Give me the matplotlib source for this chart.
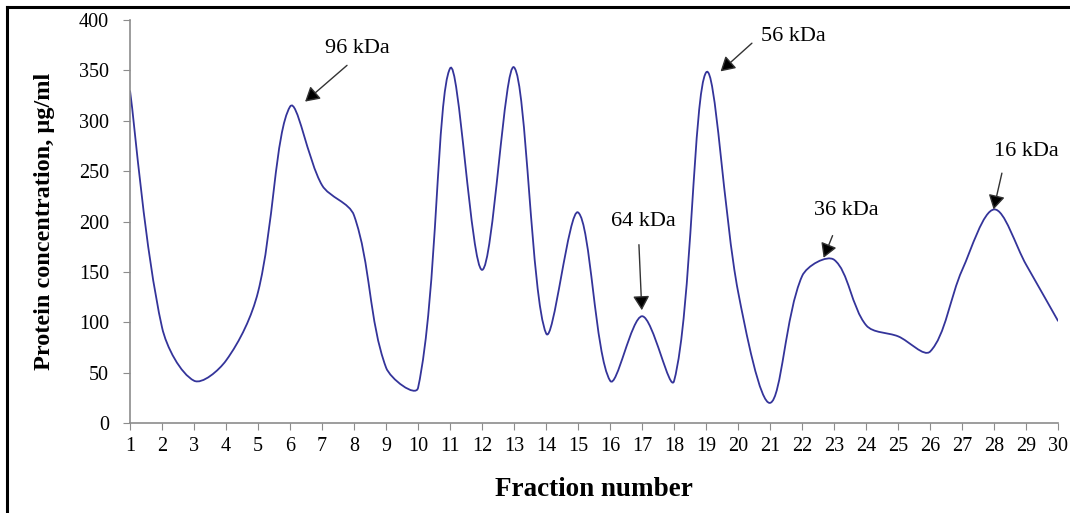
import numpy as np
import matplotlib
matplotlib.use("Agg")
import matplotlib.pyplot as plt
from matplotlib.path import Path
from matplotlib.patches import PathPatch
from matplotlib.lines import Line2D

fractions = list(range(1, 31))
conc = [330, 95, 42, 62, 130, 314, 236, 206, 55, 35,
        352, 152, 353, 89, 209, 42, 106, 42, 348, 130,
        20, 146, 162, 97, 86, 71, 152, 212, 157, 101]

# label, text centre, arrow start, arrow tip (data coords)
peaks = [("96 kDa", (8.09, 372), (7.78, 355), (6.47, 319)),
         ("56 kDa", (21.72, 384), (20.43, 377), (19.45, 349)),
         ("64 kDa", (17.03, 200), (16.90, 177), (16.99, 112)),
         ("36 kDa", (23.38, 211), (22.95, 186), (22.67, 164)),
         ("16 kDa", (29.00, 269), (28.24, 248), (27.98, 212))]

LINE = "#34349a"
plt.rcParams["font.family"] = ["Liberation Serif", "DejaVu Serif"]

fig = plt.figure(figsize=(10.70, 5.13), dpi=100)
ax = fig.add_axes([0.1215, 0.1754, 0.8675, 0.7856])
ax.set_xlim(1, 30)
ax.set_ylim(0, 400)

# Excel-like smoothed line: Bezier arms (P[i+1]-P[i-1])/6 scaled by segment length, in screen space
P = ax.transData.transform(np.column_stack([fractions, conc]))
n = len(P)
seg = np.linalg.norm(np.diff(P, axis=0), axis=1)

def arm(i, side):
    # side=+1: outgoing arm of point i, side=-1: incoming arm
    a, b = P[max(i - 1, 0)], P[min(i + 1, n - 1)]
    d_prev = seg[i - 1] if i > 0 else seg[i]
    d_next = seg[i] if i < n - 1 else seg[i - 1]
    own = d_next if side > 0 else d_prev
    return (b - a) / 6 * 2 * own / (d_prev + d_next)

verts, codes = [P[0]], [Path.MOVETO]
for i in range(n - 1):
    verts += [P[i] + arm(i, 1), P[i + 1] - arm(i + 1, -1), P[i + 1]]
    codes += [Path.CURVE4] * 3
verts = ax.transData.inverted().transform(np.array(verts))
ax.add_patch(PathPatch(Path(verts, codes), fc="none", ec=LINE, lw=1.3))

for lab, txy, start, tip in peaks:
    ax.text(*txy, lab, ha="center", va="center", fontsize=16)
    ax.annotate("", xy=tip, xytext=start,
                arrowprops=dict(arrowstyle="-|>,head_length=0.86,head_width=0.5",
                                mutation_scale=10, color="black", ec="#333333",
                                lw=1.0, shrinkA=0, shrinkB=0))

ax.set_xticks(fractions)
ax.set_yticks(range(0, 401, 50))
ax.tick_params(direction="out", length=5, color="#8c8c8c", labelsize=14.5)
ax.tick_params(axis="x", pad=5)
ax.tick_params(axis="y", pad=10)
for s in ["top", "right"]:
    ax.spines[s].set_visible(False)
for s in ["left", "bottom"]:
    ax.spines[s].set_color("#8c8c8c")
    ax.spines[s].set_linewidth(1.2)
ax.set_xlabel("Fraction number", fontsize=19.5, fontweight="bold", labelpad=15)
ax.set_ylabel("Protein concentration, µg/ml", fontsize=17.5, fontweight="bold", labelpad=17)

# frame lines at left and top of the picture
fig.add_artist(Line2D([0.0065, 0.0065], [0, 0.987], color="black", lw=2.2, transform=fig.transFigure))
fig.add_artist(Line2D([0.0065, 1.0], [0.987, 0.987], color="black", lw=2.2, transform=fig.transFigure))

fig.savefig("out.png", dpi=100)
